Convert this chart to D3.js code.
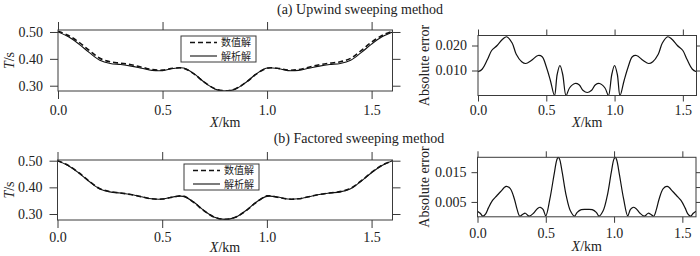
<!DOCTYPE html>
<html>
<head>
<meta charset="utf-8">
<script src="https://cdn.jsdelivr.net/npm/d3@7"></script>
<style>
  body { margin: 0; background: #fff; }
  svg text { font-family: "Liberation Serif", "DejaVu Serif", serif; fill: #222; }
</style>
</head>
<body>
<svg id="chart" width="700" height="256"></svg>
<script>
// travel time curves, x step 0.05 km
let xs = d3.range(0, 1.6001, 0.05);
let analytic = [0.500, 0.482, 0.455, 0.423, 0.395, 0.383, 0.379, 0.373, 0.365, 0.357, 0.356, 0.364, 0.366,
  0.345, 0.313, 0.288, 0.280, 0.288, 0.313, 0.345, 0.366, 0.364, 0.356, 0.357, 0.365, 0.373, 0.379,
  0.383, 0.395, 0.423, 0.455, 0.482, 0.500];
let upwind = [0.503, 0.487, 0.462, 0.431, 0.402, 0.389, 0.384, 0.378, 0.369, 0.360, 0.358, 0.365, 0.365,
  0.344, 0.313, 0.289, 0.281, 0.289, 0.313, 0.344, 0.365, 0.365, 0.358, 0.360, 0.369, 0.378, 0.384,
  0.389, 0.402, 0.431, 0.462, 0.487, 0.503];
let factored = [0.500, 0.483, 0.456, 0.424, 0.396, 0.384, 0.379, 0.373, 0.365, 0.357, 0.356, 0.363, 0.368,
  0.344, 0.312, 0.288, 0.280, 0.288, 0.312, 0.344, 0.368, 0.363, 0.356, 0.357, 0.365, 0.373, 0.379,
  0.384, 0.396, 0.424, 0.456, 0.483, 0.500];

// absolute error, upwind
let errAx = [0.00, 0.03, 0.07, 0.10, 0.14, 0.18, 0.21, 0.25, 0.28, 0.32, 0.35, 0.39, 0.44, 0.47, 0.50, 0.53,
  0.56, 0.58, 0.60, 0.62, 0.645, 0.67, 0.71, 0.74, 0.77, 0.80, 0.83, 0.86, 0.89, 0.93, 0.955, 0.98, 1.00,
  1.02, 1.04, 1.07, 1.10, 1.13, 1.16, 1.21, 1.25, 1.28, 1.32, 1.35, 1.39, 1.42, 1.46, 1.50, 1.53, 1.57, 1.60];
let errA = [0.0095, 0.0105, 0.0145, 0.0180, 0.0200, 0.0225, 0.0235, 0.0210, 0.0165, 0.0135, 0.0128, 0.0140,
  0.0160, 0.0155, 0.0115, 0.0060, 0.0000, 0.0085, 0.0120, 0.0085, 0.0000, 0.0030, 0.0048, 0.0043, 0.0020,
  0.0012, 0.0020, 0.0043, 0.0048, 0.0030, 0.0000, 0.0085, 0.0120, 0.0085, 0.0000, 0.0060, 0.0115, 0.0155,
  0.0160, 0.0140, 0.0128, 0.0135, 0.0165, 0.0210, 0.0235, 0.0225, 0.0200, 0.0180, 0.0145, 0.0105, 0.0095];

// absolute error, factored
let errBx = [0.00, 0.02, 0.04, 0.06, 0.08, 0.11, 0.14, 0.17, 0.21, 0.24, 0.27, 0.29, 0.31, 0.33, 0.35, 0.37,
  0.38, 0.41, 0.44, 0.46, 0.48, 0.50, 0.53, 0.56, 0.58, 0.59, 0.60, 0.62, 0.65, 0.68, 0.71, 0.73, 0.76, 0.80,
  0.84, 0.87, 0.89, 0.92, 0.95, 0.98, 1.00, 1.01, 1.02, 1.04, 1.07, 1.10, 1.12, 1.14, 1.16, 1.19, 1.22, 1.23,
  1.25, 1.27, 1.29, 1.31, 1.33, 1.36, 1.39, 1.43, 1.46, 1.49, 1.52, 1.54, 1.56, 1.58, 1.60];
let errB = [0.0019, 0.0012, 0.0002, 0.0010, 0.0030, 0.0055, 0.0070, 0.0085, 0.0102, 0.0095, 0.0060, 0.0025,
  0.0002, 0.0008, 0.0012, 0.0004, 0.0002, 0.0012, 0.0028, 0.0032, 0.0025, 0.0003, 0.0060, 0.0140, 0.0190,
  0.0200, 0.0195, 0.0150, 0.0070, 0.0020, 0.0002, 0.0015, 0.0024, 0.0025, 0.0024, 0.0015, 0.0002, 0.0020,
  0.0070, 0.0150, 0.0195, 0.0200, 0.0190, 0.0140, 0.0060, 0.0003, 0.0025, 0.0032, 0.0028, 0.0012, 0.0002,
  0.0004, 0.0012, 0.0008, 0.0002, 0.0025, 0.0060, 0.0095, 0.0102, 0.0085, 0.0070, 0.0055, 0.0030, 0.0010,
  0.0002, 0.0012, 0.0019];

let xTicks = [0, 0.5, 1.0, 1.5];
let tTicks = [0.30, 0.40, 0.50];
let titles = ["(a) Upwind sweeping method", "(b) Factored sweeping method"];
let legendNames = ["数值解", "解析解"];

let svg = d3.select('#chart');
let INK = '#3a3a3a';
let SERIF = '"Liberation Serif", "DejaVu Serif", serif';

function panel(p) {
    let g = svg.append('g');
    let x = d3.scaleLinear().domain([0, 1.6]).range([p.l, p.r]);
    let y = d3.scaleLinear().domain(p.yDom).range([p.b, p.t]);
    let ts = p.tick;

    let axes = [
        [d3.axisBottom(x).tickValues(xTicks).tickFormat(d3.format('.1f')), `translate(0,${p.b})`],
        [d3.axisTop(x).tickValues(xTicks).tickFormat(''), `translate(0,${p.t})`],
        [d3.axisLeft(y).tickValues(p.yTicks).tickFormat(d3.format(p.yFmt)), `translate(${p.l},0)`],
        [d3.axisRight(y).tickValues(p.yTicksR || p.yTicks).tickFormat(''), `translate(${p.r},0)`]
    ];
    axes.forEach(([ax, tr], i) => {
        let a = g.append('g')
            .attr('transform', tr)
            .call(ax.tickSize(ts).tickSizeOuter(0).tickPadding(i == 0 ? p.padX : p.padY));
        a.attr('font-family', null);
        a.select('.domain').remove();
        a.selectAll('line').attr('stroke', INK);
        a.selectAll('text').attr('font-size', 14).style('font-family', SERIF).attr('fill', '#222');
    });

    let id = 'clip' + p.id;
    svg.append('clipPath').attr('id', id)
        .append('rect').attr('x', p.l).attr('y', p.t - 1).attr('width', p.r - p.l).attr('height', p.b - p.t + 1);

    let line = d3.line().x(d => x(d[0])).y(d => y(d[1])).curve(d3.curveCatmullRom.alpha(0.5));
    p.series.forEach(s => {
        g.append('path')
            .datum(s.xs.map((v, i) => [v, s.ys[i]]))
            .attr('clip-path', `url(#${id})`)
            .attr('fill', 'none')
            .attr('stroke', '#111')
            .attr('stroke-width', s.w)
            .attr('stroke-dasharray', s.dash || null)
            .attr('d', line);
    });

    g.append('rect')
        .attr('x', p.l).attr('y', p.t)
        .attr('width', p.r - p.l).attr('height', p.b - p.t)
        .attr('fill', 'none').attr('stroke', INK).attr('stroke-width', 1);

    g.append('text')
        .attr('x', (p.l + p.r) / 2).attr('y', p.xlabY)
        .attr('text-anchor', 'middle').attr('font-size', 14).style('font-family', SERIF)
        .html('<tspan font-style="italic">X</tspan>/km');

    let cy = (p.t + p.b) / 2;
    g.append('text')
        .attr('transform', `translate(${p.ylabX},${cy}) rotate(-90)`)
        .attr('text-anchor', 'middle').attr('font-size', 14).style('font-family', SERIF)
        .html(p.ylab);

    if (p.legend) {
        let L = p.legend;
        g.append('rect').attr('x', L.x).attr('y', L.y).attr('width', 75).attr('height', 26)
            .attr('fill', '#fff').attr('stroke', INK).attr('stroke-width', 1);
        [['5,3', 1.6], [null, 1.1]].forEach(([dash, w], i) => {
            let ly = L.y + 6.5 + i * 13.5;
            g.append('line').attr('x1', L.x + 9).attr('x2', L.x + 36).attr('y1', ly).attr('y2', ly)
                .attr('stroke', '#111').attr('stroke-width', w).attr('stroke-dasharray', dash);
            g.append('text').attr('x', L.x + 40).attr('y', ly + 3.5)
                .attr('font-size', 10).style('font-family', '"Noto Sans CJK SC", sans-serif')
                .attr('fill', '#333')
                .text(legendNames[i]);
        });
    }
}

// (a) Upwind
panel({ id: 'al', l: 58, r: 392.5, t: 30, b: 91, yDom: [0.2803, 0.5074], yTicks: tTicks, yFmt: '.2f',
    tick: 8, padX: 6, padY: 7, xlabY: 127, ylabX: 14, ylab: '<tspan font-style="italic">T</tspan>/s',
    legend: { x: 181, y: 36 },
    series: [{ xs: xs, ys: analytic, w: 1.1 }, { xs: xs, ys: upwind, w: 1.6, dash: '5,3' }] });
panel({ id: 'ar', l: 478, r: 696.5, t: 35.5, b: 95.5, yDom: [0, 0.024], yTicks: [0.010, 0.020], yFmt: '.3f',
    tick: 6, padX: 4, padY: 5, xlabY: 127, ylabX: 429, ylab: 'Absolute error',
    series: [{ xs: errAx, ys: errA, w: 1.2 }] });

// (b) Factored
panel({ id: 'bl', l: 57.5, r: 392.5, t: 160, b: 220, yDom: [0.2775, 0.5026], yTicks: tTicks, yFmt: '.2f',
    tick: 8, padX: 4, padY: 7, xlabY: 252, ylabX: 14, ylab: '<tspan font-style="italic">T</tspan>/s',
    legend: { x: 184, y: 164 },
    series: [{ xs: xs, ys: analytic, w: 1.1 }, { xs: xs, ys: factored, w: 1.6, dash: '5,3' }] });
panel({ id: 'br', l: 477.5, r: 696, t: 157.3, b: 216.8, yDom: [0, 0.020], yTicks: [0.005, 0.015],
    yTicksR: [0.005, 0.010, 0.015], yFmt: '.3f',
    tick: 6, padX: 5, padY: 5, xlabY: 251, ylabX: 429, ylab: 'Absolute error',
    series: [{ xs: errBx, ys: errB, w: 1.2 }] });

svg.append('text').attr('x', 360).attr('y', 14).attr('text-anchor', 'middle').attr('font-size', 14)
    .style('font-family', SERIF).text(titles[0]);
svg.append('text').attr('x', 359).attr('y', 143).attr('text-anchor', 'middle').attr('font-size', 14)
    .style('font-family', SERIF).text(titles[1]);
</script>
</body>
</html>
